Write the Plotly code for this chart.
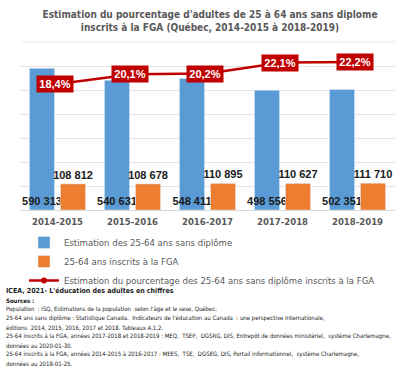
import plotly.graph_objects as go

categories = ["2014-2015", "2015-2016", "2016-2017", "2017-2018", "2018-2019"]
sans_diplome = [590313, 540631, 548411, 498556, 502351]
inscrits_fga = [108812, 108678, 110895, 110627, 111710]
pourcentage = [18.4, 20.1, 20.2, 22.1, 22.2]

def fmt_int(v):
    return f"{v:,}".replace(",", " ")

def fmt_pct(v):
    return f"{v:.1f}".replace(".", ",") + "%"

BLUE = "#5B9BD5"
ORANGE = "#ED7D31"
RED = "#C00000"
GRAY = "#595959"
NARROW = "DejaVu Sans Condensed, Liberation Sans Narrow, sans-serif"

W, H = 420, 371
L, R, T, B = 20, 25, 45, 161
PH = H - T - B  # plot height

fig = go.Figure()
fig.add_trace(go.Bar(
    x=categories, y=sans_diplome, name="Estimation des 25-64 ans sans diplôme",
    marker_color=BLUE, text=[fmt_int(v) for v in sans_diplome],
    textposition="inside", insidetextanchor="start", constraintext="none", textangle=0,
    insidetextfont=dict(color="#1a1a1a", size=11, family="Liberation Sans, Arial, sans-serif", weight="bold"),
))
fig.add_trace(go.Bar(
    x=categories, y=inscrits_fga, name="25-64 ans inscrits à la FGA",
    marker_color=ORANGE, text=[fmt_int(v) for v in inscrits_fga],
    textposition="outside", constraintext="none", textangle=0, cliponaxis=False,
    outsidetextfont=dict(color="#1a1a1a", size=11, family="Liberation Sans, Arial, sans-serif", weight="bold"),
))
fig.add_trace(go.Scatter(
    x=categories, y=pourcentage, yaxis="y2", mode="lines+markers",
    name="Estimation du pourcentage des 25-64 ans sans diplôme inscrits à la FGA",
    line=dict(color=RED, width=2.5), marker=dict(color=RED, size=6),
))

annotations = []
for c, p in zip(categories, pourcentage):
    annotations.append(dict(
        x=c, y=p, xref="x", yref="y2", text=fmt_pct(p), showarrow=False,
        xshift=-3, bgcolor=RED, borderpad=1.5, width=33, height=13,
        font=dict(color="white", size=11, family="Liberation Sans, Arial, sans-serif", weight="bold"),
    ))

def py(px):
    return (H - B - px) / PH

def pxx(px):
    return (px - L) / (W - L - R)

footer = [
    ("ICEA, 2021- L'éducation des adultes en chiffres", 291, 7.0, "bold"),
    ("Sources :", 300, 6.0, "bold"),
    ("Population  : ISQ, Estimations de la population  selon l'âge et le sexe, Québec.", 309, 6.0, "normal"),
    ("25-64 ans sans diplôme : Statistique Canada.  Indicateurs de l'éducation au Canada  : une perspective internationale,", 318, 6.0, "normal"),
    ("éditions  2014, 2015, 2016, 2017 et 2018. Tableaux A.1.2.", 327, 6.0, "normal"),
    ("25-64 inscrits à la FGA, années 2017-2018 et 2018-2019 : MEQ,  TSEP,  DGSRG, DIS, Entrepôt de données ministériel,  système Charlemagne,", 336, 6.0, "normal"),
    ("données au 2020-01-30.", 345, 6.0, "normal"),
    ("25-64 inscrits à la FGA, années 2014-2015 à 2016-2017 : MEES,  TSE,  DGSEG, DIS, Portail informationnel,  système Charlemagne,", 354, 6.0, "normal"),
    ("données au 2018-01-25.", 363, 6.0, "normal"),
]
for txt, y, size, weight in footer:
    annotations.append(dict(
        x=pxx(4), y=py(y), xref="paper", yref="paper", xanchor="left", yanchor="middle",
        text=txt, showarrow=False,
        font=dict(color="#1a1a1a", size=size, family=NARROW, weight=weight),
    ))

fig.update_layout(
    width=W, height=H, margin=dict(l=L, r=R, t=T, b=B, autoexpand=False),
    paper_bgcolor="white", plot_bgcolor="white",
    title=dict(
        text="Estimation du pourcentage d'adultes de 25 à 64 ans sans diplome<br>inscrits à la FGA (Québec, 2014-2015 à 2018-2019)",
        x=0.5, xanchor="center", y=1 - 18 / H, yanchor="top", yref="container",
        font=dict(size=10, color=GRAY, family=NARROW, weight="bold"),
    ),
    barmode="group", bargap=0.173, bargroupgap=0.19,
    xaxis=dict(
        showgrid=False, showline=True, linecolor="#D9D9D9", linewidth=1,
        ticks="", ticklabelstandoff=3,
        tickfont=dict(size=9.5, color=GRAY, family=NARROW, weight="bold"),
    ),
    yaxis=dict(
        range=[0, 600000 * PH / 144], dtick=100000, showgrid=True, gridcolor="#E3E3E3",
        showticklabels=False, zeroline=False, ticks="",
    ),
    yaxis2=dict(
        range=[18.4 - 126 / 5.8, 18.4 + 39 / 5.8], overlaying="y", side="right",
        showgrid=False, showticklabels=False, zeroline=False, ticks="",
    ),
    legend=dict(
        orientation="v", x=pxx(24), xanchor="left", y=py(228), yanchor="top",
        font=dict(size=9.5, color=GRAY, family=NARROW), bgcolor="rgba(0,0,0,0)",
        traceorder="normal", tracegroupgap=0,
    ),
    annotations=annotations,
    shapes=[dict(type="line", xref="paper", yref="paper", x0=pxx(22), x1=pxx(395),
                 y0=py(42), y1=py(42), line=dict(color="#E6E6E6", width=1))],
)

fig.write_html("out.html", config={"displayModeBar": False},
               post_script="document.body.style.margin='0';document.body.style.padding='0';")
